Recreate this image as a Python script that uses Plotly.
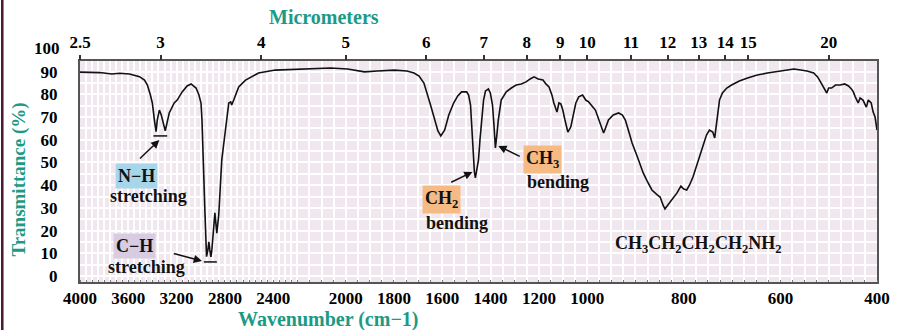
import numpy as np
import plotly.graph_objects as go

# ---------------- data ----------------
wavenumber = [4000, 3836, 3737, 3672, 3590, 3507, 3466, 3442, 3417, 3401, 3384, 3370, 3360, 3343,
              3327, 3310, 3294, 3278, 3261, 3220, 3195, 3154, 3113, 3080, 3039, 3015, 2998, 2990,
              2982, 2974, 2966, 2957, 2952, 2941, 2933, 2925, 2916, 2908, 2900, 2883, 2867, 2851,
              2826, 2793, 2768, 2752, 2744, 2727, 2686, 2629, 2522, 2383, 2156, 2062, 1992, 1922,
              1869, 1799, 1746, 1717, 1696, 1676, 1651, 1631, 1618, 1606, 1590, 1573, 1553, 1536,
              1520, 1499, 1491, 1483, 1479, 1475, 1471, 1467, 1463, 1456, 1450, 1444, 1438, 1429,
              1421, 1409, 1401, 1392, 1386, 1380, 1374, 1368, 1356, 1335, 1314, 1294, 1273, 1253,
              1236, 1220, 1203, 1183, 1171, 1158, 1146, 1138, 1125, 1117, 1109, 1101, 1092, 1080,
              1068, 1056, 1047, 1035, 1019, 1006, 997, 983, 972, 966, 962, 956, 946, 935, 927, 921,
              913, 907, 896, 884, 876, 866, 855, 849, 843, 839, 833, 825, 814, 806, 800, 794, 788,
              781, 773, 767, 759, 753, 747, 740, 736, 733, 730, 726, 720, 711, 701, 685, 668, 648,
              627, 597, 572, 558, 545, 531, 523, 517, 510, 504, 500, 494, 486, 476, 467, 459, 453,
              449, 445, 439, 435, 429, 422, 418, 412, 408, 404, 400]
transmittance = [89.8, 89.6, 89.0, 89.3, 89.0, 87.8, 86.3, 84.1, 79.7, 76.2, 68.7, 63.6, 68.7, 73.1,
                 70.9, 66.5, 63.9, 67.8, 71.8, 76.2, 77.5, 81.1, 83.7, 84.6, 82.8, 79.7, 76.2, 68.7,
                 58.6, 42.3, 29.1, 15.9, 8.5, 11.5, 15.0, 11.5, 8.4, 11.5, 18.1, 27.8, 18.9, 26.9,
                 51.1, 65.6, 76.2, 76.7, 75.3, 77.5, 83.3, 86.3, 89.4, 90.7, 91.2, 91.6, 91.2, 89.9,
                 90.3, 90.7, 90.3, 89.4, 88.1, 85.0, 76.2, 68.7, 63.9, 61.7, 64.3, 70.9, 76.2, 79.3,
                 81.1, 81.1, 79.7, 75.3, 68.7, 59.9, 51.1, 45.8, 43.2, 46.7, 51.1, 59.9, 68.7, 77.5,
                 81.5, 82.4, 80.6, 75.3, 66.5, 56.4, 62.1, 68.7, 77.5, 81.1, 82.8, 84.1, 84.6, 85.5,
                 86.8, 87.7, 86.8, 86.3, 84.6, 83.3, 79.7, 76.2, 72.2, 76.2, 75.8, 73.1, 68.7, 63.4,
                 65.6, 72.2, 76.2, 78.9, 79.7, 77.5, 76.7, 73.1, 66.5, 63.0, 65.2, 68.7, 70.9, 71.8,
                 70.9, 68.7, 63.0, 58.6, 52.4, 45.4, 41.9, 37.9, 35.7, 34.8, 31.3, 29.5, 31.3, 33.5,
                 36.6, 39.6, 38.3, 37.9, 40.1, 43.6, 48.9, 52.4, 57.7, 62.1, 64.3, 63.4, 60.8, 66.5,
                 71.8, 77.5, 80.6, 82.8, 84.1, 85.9, 87.2, 88.5, 89.4, 90.3, 91.2, 90.7, 90.3, 89.4,
                 87.7, 85.5, 82.8, 80.6, 82.8, 82.8, 84.1, 84.1, 84.6, 83.7, 82.4, 81.1, 78.9, 76.2,
                 78.4, 77.5, 74.4, 77.5, 76.2, 72.2, 70.0, 64.3]

wn_ticks = [4000, 3600, 3200, 2800, 2400, 2000, 1800, 1600, 1400, 1200, 1000, 800, 600, 400]
um_ticks = [2.5, 3, 4, 5, 6, 7, 8, 9, 10, 11, 12, 13, 14, 15, 20]
um_labels = ["2.5", "3", "4", "5", "6", "7", "8", "9", "10", "11", "12", "13", "14", "15", "20"]
t_ticks = [0, 10, 20, 30, 40, 50, 60, 70, 80, 90]

# piecewise axis: 4000-2200, 2200-1000 (2x), 1000-400 (4x)
BREAK_WN = [4000, 2200, 1000, 400]
BREAK_U = [0, 1800, 4200, 6600]


def u(w):
    w = np.asarray(w, dtype=float)
    return np.interp(-w, [-b for b in BREAK_WN], BREAK_U)


xs = u(wavenumber)

# grid positions (every 50 cm-1 up to 1000, then every 25)
grid_wn = list(range(4000, 1000, -50)) + list(range(1000, 399, -25))

TEAL = "#1b9a86"
SERIF = "Liberation Serif"
BG = "#f1e8ef"
TICKFONT = dict(family=SERIF, size=17, color="black", weight="bold")

# layout geometry (pixels)
L, R, T, B = 80, 17, 61, 48
PW, PH = 902 - L - R, 330 - T - B


def px(xp):
    return (xp - L) / PW


def py(yp):
    return (330 - B - yp) / PH


fig = go.Figure()
fig.add_trace(go.Scatter(x=xs, y=transmittance, mode="lines",
                         line=dict(color="#111111", width=1.6), showlegend=False,
                         hoverinfo="skip"))
# dummy trace for top axis
fig.add_trace(go.Scatter(x=[0, 6600], y=[None, None], xaxis="x2", showlegend=False,
                         hoverinfo="skip"))

fig.update_layout(
    width=902, height=330,
    margin=dict(l=L, r=R, t=T, b=B),
    paper_bgcolor="white", plot_bgcolor=BG,
    xaxis=dict(range=[0, 6600], tickmode="array", tickvals=u(wn_ticks),
               ticktext=[str(t) for t in wn_ticks], tickfont=TICKFONT,
               showgrid=True, gridcolor="white", gridwidth=1.6,
               minor=dict(tickmode="array", tickvals=u(grid_wn), showgrid=True,
                          gridcolor="white", gridwidth=1.6, ticks="inside", ticklen=2,
                          tickcolor="#777"),
               ticks="", showline=True, linecolor="#555", linewidth=2, mirror=True,
               zeroline=False, ticklabelstandoff=0),
    xaxis2=dict(range=[0, 6600], overlaying="x", side="top", tickmode="array",
                tickvals=u([10000.0 / m for m in um_ticks]), ticktext=um_labels,
                tickfont=TICKFONT,
                ticks="outside", ticklen=5, tickwidth=1.5, tickcolor="#333",
                showgrid=False, showline=False, zeroline=False),
    yaxis=dict(range=[-2.64, 94.7], tickmode="array", tickvals=t_ticks,
               ticktext=[str(t) for t in t_ticks], tickfont=TICKFONT,
               showgrid=True, gridcolor="white", gridwidth=1.6,
               minor=dict(dtick=5, showgrid=True, gridcolor="white", gridwidth=1.6),
               ticks="", showline=True, linecolor="#555", linewidth=2, mirror=True,
               zeroline=False, ticklabelstandoff=17),
)

ann = []
# "100" label sits above the frame
ann.append(dict(x=px(62), xref="paper", y=py(49), yref="paper", text="100", showarrow=False,
                xanchor="right", yanchor="middle", font=TICKFONT))
# axis titles
ann.append(dict(x=px(326), xref="paper", y=py(17), yref="paper",
                text="Micrometers", showarrow=False, xanchor="center", yanchor="middle",
                font=dict(family=SERIF, size=20, color=TEAL, weight="bold")))
ann.append(dict(x=px(330), xref="paper", y=py(319), yref="paper",
                text="Wavenumber (cm−1)", showarrow=False, xanchor="center",
                yanchor="middle", font=dict(family=SERIF, size=20, color=TEAL, weight="bold")))
ann.append(dict(x=px(18), xref="paper", y=py(180), yref="paper",
                text="Transmittance (%)", textangle=-90, showarrow=False, xanchor="center",
                yanchor="middle", font=dict(family=SERIF, size=19, color=TEAL, weight="bold")))

LBL = dict(family=SERIF, size=18, color="#111", weight="bold")


def label(wn, t, text, bg=None):
    d = dict(x=float(u(wn)), y=t, xref="x", yref="y", text=text, showarrow=False,
             xanchor="center", yanchor="middle", font=LBL)
    if bg:
        d.update(bgcolor=bg, borderpad=2)
    return d


ann += [
    label(3532, 44.1, "N−H", "#a7d5ea"),
    label(3433, 35.2, "stretching"),
    label(3548, 13.2, "C−H", "#d8cce3"),
    label(3450, 4.0, "stretching"),
    label(1602, 33.5, "CH<sub>2</sub>", "#f6bb84"),
    label(1540, 23.3, "bending"),
    label(1183, 51.5, "CH<sub>3</sub>", "#f6bb84"),
    label(1121, 41.4, "bending"),
    label(771, 13.7, "CH<sub>3</sub>CH<sub>2</sub>CH<sub>2</sub>CH<sub>2</sub>NH<sub>2</sub>"),
]


def arrow(w0, t0, w1, t1):
    return dict(x=float(u(w1)), y=t1, ax=float(u(w0)), ay=t0, xref="x", yref="y",
                axref="x", ayref="y", text="", showarrow=True, arrowhead=2,
                arrowsize=1.1, arrowwidth=1.5, arrowcolor="#111")


ann += [
    arrow(3516, 51.1, 3343, 59.9),
    arrow(3236, 10.1, 2990, 6.6),
    arrow(1569, 41.0, 1475, 45.8),
    arrow(1273, 52.4, 1368, 57.3),
]

fig.update_layout(annotations=ann)

shapes = [
    dict(type="line", xref="x", yref="y", x0=float(u(3392)), x1=float(u(3278)), y0=61.7, y1=61.7,
         line=dict(color="#111", width=1.5)),
    dict(type="line", xref="x", yref="y", x0=float(u(2974)), x1=float(u(2867)), y0=6.2, y1=6.2,
         line=dict(color="#111", width=1.5)),
    dict(type="line", xref="paper", yref="paper", x0=px(1.5), x1=px(1.5),
         y0=py(0), y1=py(330), line=dict(color="#4a1633", width=2.5)),
]
fig.update_layout(shapes=shapes)

fig.write_html("out.html")
